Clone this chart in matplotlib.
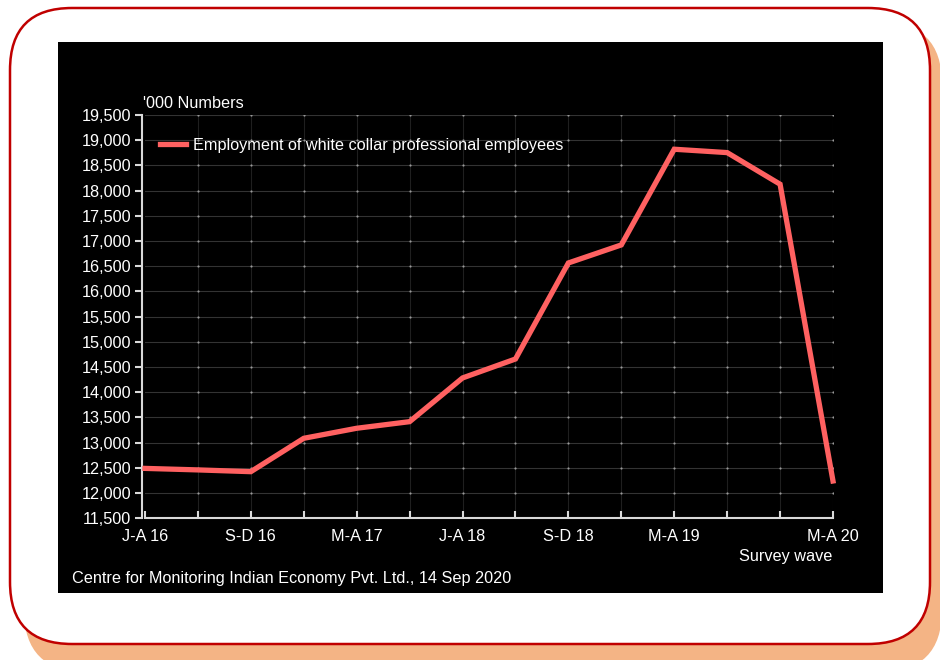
import matplotlib
matplotlib.use("Agg")
import matplotlib.pyplot as plt
import numpy as np
from matplotlib.patches import FancyBboxPatch, Rectangle

plt.rcParams["font.family"] = ["Liberation Sans", "DejaVu Sans"]

# survey waves (Jan-Apr, May-Aug, Sep-Dec) and employment in '000
waves = ["J-A 16", "M-A 16", "S-D 16", "J-A 17", "M-A 17", "S-D 17", "J-A 18",
         "M-A 18", "S-D 18", "J-A 19", "M-A 19", "S-D 19", "J-A 20", "M-A 20"]
employment = [12490, 12460, 12425, 13087, 13286, 13417, 14284,
              14660, 16565, 16923, 18821, 18754, 18127, 12240]
labelled_waves = ["J-A 16", "S-D 16", "M-A 17", "J-A 18", "S-D 18", "M-A 19", "M-A 20"]
y_ticks = list(range(11500, 19501, 500))

FS = 11.7
W, H = 940, 660
fig = plt.figure(figsize=(W / 100, H / 100), dpi=100)
fig.patch.set_facecolor("white")

# backdrop: shadowed rounded card with a black chart panel
bg = fig.add_axes([0, 0, 1, 1])
bg.set_xlim(0, W)
bg.set_ylim(H, 0)
bg.axis("off")
bg.add_patch(FancyBboxPatch((24, 22), 918, 650, boxstyle="round,pad=0,rounding_size=62",
                            fc="#f4b485", ec="none"))
bg.add_patch(FancyBboxPatch((10, 8), 920, 636, boxstyle="round,pad=0,rounding_size=62",
                            fc="white", ec="#c00000", lw=1.8))
bg.add_patch(Rectangle((58, 42), 825, 551, fc="black", ec="none"))

# plot area in pixels
left, right, top, bottom = 145, 833, 115, 518.3
ax = fig.add_axes([left / W, 1 - bottom / H, (right - left) / W, (bottom - top) / H])
ax.set_facecolor("black")
x = np.arange(len(waves))
ax.set_xlim(0, len(waves) - 1)
ax.set_ylim(11500, 19500)

# grid with brighter dots at the crossings
for yv in y_ticks[1:]:
    ax.axhline(yv, color="#333333", lw=0.8, zorder=1)
for xv in x[1:]:
    ax.axvline(xv, color="#1f1f1f", lw=0.8, zorder=1)
gx, gy = np.meshgrid(x[1:], y_ticks[1:])
ax.scatter(gx.ravel(), gy.ravel(), s=2.5, color="#9a9a9a", zorder=2, linewidths=0)

ax.plot(x, employment, color="#ff6161", lw=3.8, solid_joinstyle="miter",
        clip_on=False, zorder=5, label="Employment of white collar professional employees")

for side in ["top", "right"]:
    ax.spines[side].set_visible(False)
for side in ["left", "bottom"]:
    ax.spines[side].set_color("#d9d9d9")
    ax.spines[side].set_linewidth(1.5)
ax.spines["left"].set_position(("outward", 2))

ax.set_xticks(x)
ax.set_xticklabels([w if w in labelled_waves else "" for w in waves])
ax.tick_params(axis="x", direction="in", length=5, width=1.5, color="#d9d9d9",
               labelcolor="white", labelsize=FS, pad=8)
ax.set_yticks(y_ticks)
ax.set_yticklabels([f"{v:,}" for v in y_ticks])
ax.tick_params(axis="y", direction="out", length=5, width=1.5, color="#d9d9d9",
               labelcolor="white", labelsize=FS, pad=3)

leg = ax.legend(loc="upper left", bbox_to_anchor=(0.0, 0.98), frameon=False,
                handlelength=1.65, handletextpad=0.4, fontsize=FS)
for t in leg.get_texts():
    t.set_color("white")

fig.text(143 / W, 1 - 103 / H, "'000 Numbers", color="white", fontsize=FS, va="center", ha="left")
fig.text(832 / W, 1 - 556 / H, "Survey wave", color="white", fontsize=FS, va="center", ha="right")
fig.text(72 / W, 1 - 578 / H, "Centre for Monitoring Indian Economy Pvt. Ltd., 14 Sep 2020",
         color="white", fontsize=FS, va="center", ha="left")

fig.savefig("out.png", dpi=100, facecolor="white")
